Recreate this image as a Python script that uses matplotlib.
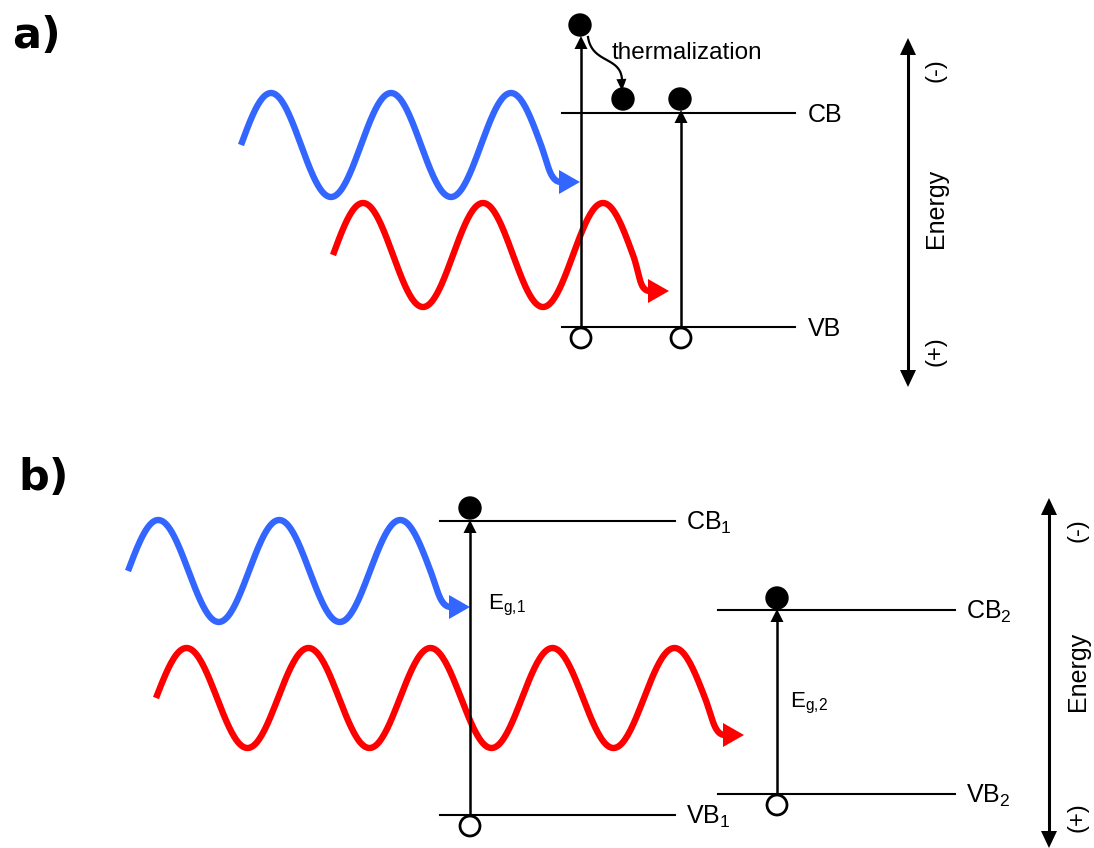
import matplotlib
matplotlib.use("Agg")
import matplotlib.pyplot as plt
import numpy as np
from matplotlib.patches import Circle, Polygon

plt.rcParams['font.family'] = ['Liberation Sans', 'DejaVu Sans']
plt.rcParams['mathtext.default'] = 'regular'

# Everything below is in image pixels (x right, y down)

# panel a: one band gap
level_labels_a = ["CB", "VB"]
level_y_a = [113, 327]
level_x_a = [562, 795]
trans_x_a = [581, 681]          # two excitations
electron_y_a = [25, 99]         # final electron positions
thermal_dot_a = (623, 99)

# panel b: two band gaps
level_labels_b1 = ["CB$_1$", "VB$_1$"]
level_y_b1 = [521, 815]
level_x_b1 = [440, 675]
level_labels_b2 = ["CB$_2$", "VB$_2$"]
level_y_b2 = [610, 794]
level_x_b2 = [718, 955]
trans_x_b = [470, 777]
gap_labels_b = ["E$_{g{,}1}$", "E$_{g{,}2}$"]

# photons: start x, centre y, amplitude, period, cycles, arrow tip
wave_colors = ['#3366ff', '#ff0000', '#3366ff', '#ff0000']
wave_x0 = [241, 333, 128, 156]
wave_yc = [145, 255, 571, 698]
wave_amp = [52, 52, 51, 50]
wave_period = [120, 120, 121, 122]
wave_cycles = [2.5, 2.5, 2.5, 4.5]
wave_tip = [(580, 182), (669, 291), (470, 607), (744, 735)]

fig = plt.figure(figsize=(10.94, 8.48), dpi=100)
ax = fig.add_axes([0, 0, 1, 1])
ax.set_xlim(0, 1094)
ax.set_ylim(848, 0)
ax.axis('off')


def bezier(p0, p1, p2, p3, n=60):
    t = np.linspace(0, 1, n)[:, None]
    p0, p1, p2, p3 = [np.array(p, float) for p in (p0, p1, p2, p3)]
    return (1 - t) ** 3 * p0 + 3 * (1 - t) ** 2 * t * p1 + 3 * (1 - t) * t ** 2 * p2 + t ** 3 * p3


def head(tip, direction, length, width, color, z=4):
    d = np.array(direction, float)
    d /= np.linalg.norm(d)
    nrm = np.array([-d[1], d[0]])
    tip = np.array(tip, float)
    base = tip - d * length
    pts = [tip, base + nrm * width / 2, base - nrm * width / 2]
    ax.add_patch(Polygon(pts, closed=True, facecolor=color, edgecolor='none', zorder=z))


def photon(x0, yc, amp, per, cyc, tip, color):
    xs = np.linspace(x0, x0 + cyc * per, 400)
    ys = yc - amp * np.sin(2 * np.pi * (xs - x0) / per)
    hl = 21
    p0 = (xs[-1], ys[-1])
    d = np.array([1.0, 2 * np.pi * amp / per])
    d /= np.linalg.norm(d)
    p1 = (p0[0] + 20 * d[0], p0[1] + 20 * d[1])
    p3 = (tip[0] - hl + 2, tip[1])
    p2 = (p3[0] - 11, tip[1])
    tail = bezier(p0, p1, p2, p3)
    px = np.concatenate([xs, tail[:, 0]])
    py = np.concatenate([ys, tail[:, 1]])
    ax.plot(px, py, color=color, lw=4.6, solid_capstyle='butt', zorder=2)
    head(tip, (1, 0), hl, 24, color, z=2)


def level(x, y, label, dx=13):
    ax.plot(x, [y, y], color='black', lw=1.5, zorder=3)
    ax.text(x[1] + dx, y + 9, label, fontsize=18, ha='left', va='baseline')


def transition(x, y_vb, y_top, r_open=10):
    ax.plot([x, x], [y_vb + 1, y_top + 10], color='black', lw=1.8, zorder=3)
    head((x, y_top), (0, -1), 13, 13, 'black')
    ax.add_patch(Circle((x, y_vb + r_open + 1), r_open, facecolor='white',
                        edgecolor='black', lw=2, zorder=5))


def energy_axis(x, y0, y1, ty, tx):
    ax.plot([x, x], [y0 + 10, y1 - 10], color='black', lw=2.2, zorder=3)
    head((x, y0), (0, -1), 17, 16, 'black')
    head((x, y1), (0, 1), 17, 16, 'black')
    ax.text(tx, ty[0], "(-)", fontsize=17, rotation=90, ha='center', va='center')
    ax.text(tx, ty[1], "Energy", fontsize=18, rotation=90, ha='center', va='center')
    ax.text(tx, ty[2], "(+)", fontsize=17, rotation=90, ha='center', va='center')


for i in range(4):
    photon(wave_x0[i], wave_yc[i], wave_amp[i], wave_period[i], wave_cycles[i],
           wave_tip[i], wave_colors[i])

# ---- panel a
ax.text(12, 36, "a)", fontsize=31, fontweight='bold', family='DejaVu Sans',
        ha='left', va='center')
for lab, y in zip(level_labels_a, level_y_a):
    level(level_x_a, y, lab)
for x, ye in zip(trans_x_a, electron_y_a):
    transition(x, level_y_a[1], ye + 11)
    ax.add_patch(Circle((x - 1, ye), 11, color='black', zorder=5))
ax.add_patch(Circle(thermal_dot_a, 11, color='black', zorder=5))
curve = bezier((588, 37), (592, 64), (621, 56), (622, 80))
ax.plot(curve[:, 0], curve[:, 1], color='black', lw=1.6, zorder=3)
head((622, 91), (0.05, 1), 12, 10, 'black')
ax.text(612, 53, "thermalization", fontsize=17.5, ha='left', va='center')
energy_axis(908, 38, 387, [70, 208, 351], 936)

# ---- panel b
ax.text(18, 478, "b)", fontsize=31, fontweight='bold', family='DejaVu Sans',
        ha='left', va='center')
for lab, y in zip(level_labels_b1, level_y_b1):
    level(level_x_b1, y, lab, dx=11)
for lab, y in zip(level_labels_b2, level_y_b2):
    level(level_x_b2, y, lab, dx=11)
transition(trans_x_b[0], level_y_b1[1], level_y_b1[0] - 1)
ax.add_patch(Circle((trans_x_b[0], level_y_b1[0] - 13), 11, color='black', zorder=5))
transition(trans_x_b[1], level_y_b2[1], level_y_b2[0] - 1)
ax.add_patch(Circle((trans_x_b[1], level_y_b2[0] - 12), 11, color='black', zorder=5))
ax.text(488, 609, gap_labels_b[0], fontsize=16, ha='left', va='baseline')
ax.text(790, 707, gap_labels_b[1], fontsize=16, ha='left', va='baseline')
energy_axis(1049, 498, 848, [530, 671, 817], 1078)

fig.savefig("out.png", dpi=100)
